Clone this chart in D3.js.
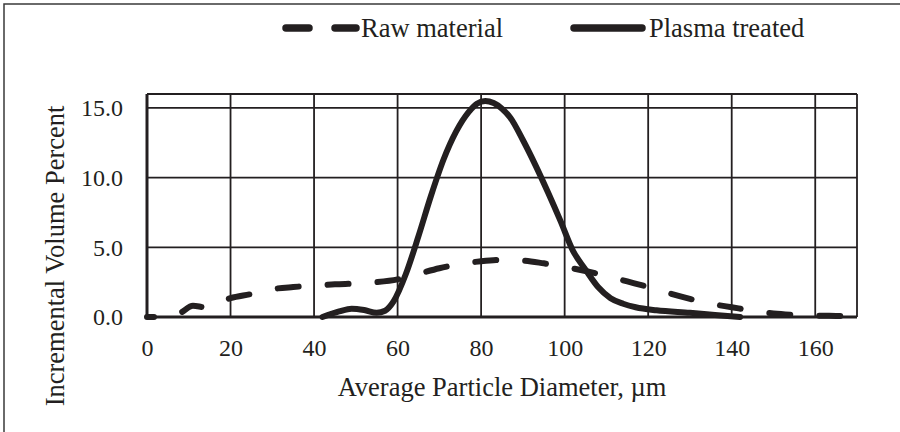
<!DOCTYPE html>
<html>
<head>
<meta charset="utf-8">
<script src="https://cdn.jsdelivr.net/npm/d3@7"></script>
<style>
  html, body { margin: 0; padding: 0; background: #fff; }
  svg text { font-family: "Liberation Serif", "Times New Roman", serif; fill: #231f20; }
</style>
</head>
<body>
<div id="chart"></div>
<script>
// values
const rawX = [0, 4, 8, 11, 14, 20, 25, 30, 35, 40, 45, 50, 55, 60, 65, 70, 75, 80, 85, 90, 95, 100, 105, 110, 115, 120, 125, 130, 135, 140, 145, 150, 155, 160, 165, 170];
const rawY = [0, 0.02, 0.3, 0.8, 0.7, 1.35, 1.65, 2.0, 2.15, 2.25, 2.35, 2.4, 2.5, 2.7, 3.1, 3.5, 3.8, 4.0, 4.1, 4.05, 3.85, 3.6, 3.3, 2.95, 2.55, 2.15, 1.7, 1.3, 0.95, 0.7, 0.45, 0.25, 0.15, 0.1, 0.08, 0.06];

const plasmaX = [42, 46, 49, 52, 55, 57, 59, 62, 65, 68, 71, 74, 77, 79, 81, 83, 85, 87, 90, 93, 96, 99, 102, 105, 108, 111, 114, 117, 122, 130, 136, 142];
const plasmaY = [0, 0.4, 0.6, 0.5, 0.3, 0.45, 1.1, 3.1, 5.8, 8.7, 11.3, 13.3, 14.7, 15.3, 15.5, 15.35, 14.95, 14.3, 12.7, 10.9, 8.95, 6.9, 4.75, 3.4, 2.15, 1.35, 0.95, 0.7, 0.48, 0.3, 0.15, 0];

const xTicks = [0, 20, 40, 60, 80, 100, 120, 140, 160];
const yTicks = [0, 5, 10, 15];
const seriesNames = ["Raw material", "Plasma treated"];
const xTitle = "Average Particle Diameter, \u00b5m";
const yTitle = "Incremental Volume Percent";

const W = 900, H = 432;
const margin = { top: 94, right: 43, bottom: 115, left: 147 };
const INK = "#231f20";

const svg = d3.select("#chart").append("svg")
    .attr("width", W)
    .attr("height", H);

// outer frame (right and bottom edges fall outside the picture)
svg.append("rect")
    .attr("x", 4).attr("y", 4)
    .attr("width", W).attr("height", H)
    .attr("fill", "none")
    .attr("stroke", "#3a3a3a")
    .attr("stroke-width", 1.5);

const width = W - margin.left - margin.right;
const height = H - margin.top - margin.bottom;

const x = d3.scaleLinear().domain([0, 170]).range([0, width]);
const y = d3.scaleLinear().domain([0, 16]).range([height, 0]);

const g = svg.append("g")
    .attr("transform", `translate(${margin.left}, ${margin.top})`);

// grid
g.selectAll("line.vgrid")
    .data(xTicks.concat([170]))
    .enter().append("line")
    .attr("class", "vgrid")
    .attr("x1", d => x(d)).attr("x2", d => x(d))
    .attr("y1", 0).attr("y2", height)
    .attr("stroke", INK)
    .attr("stroke-width", d => d === 0 ? 3 : 1.8);

g.selectAll("line.hgrid")
    .data(yTicks.concat([16]))
    .enter().append("line")
    .attr("class", "hgrid")
    .attr("x1", 0).attr("x2", width)
    .attr("y1", d => y(d)).attr("y2", d => y(d))
    .attr("stroke", INK)
    .attr("stroke-width", d => d === 0 ? 3 : 1.8);

// axes (labels only, lines come from the grid)
const xAxis = g.append("g")
    .attr("transform", `translate(0, ${height})`)
    .call(d3.axisBottom(x).tickValues(xTicks).tickSize(0).tickPadding(22).tickFormat(d3.format("d")));
xAxis.select("path.domain").remove();
xAxis.selectAll("text")
    .style("font-family", "'Liberation Serif', serif")
    .style("font-size", "24px")
    .attr("fill", INK);

const yAxis = g.append("g")
    .call(d3.axisLeft(y).tickValues(yTicks).tickSize(0).tickPadding(24).tickFormat(d3.format(".1f")));
yAxis.select("path.domain").remove();
yAxis.selectAll("text")
    .style("font-family", "'Liberation Serif', serif")
    .style("font-size", "24px")
    .attr("fill", INK);

// series
const line = d3.line()
    .x(d => x(d[0]))
    .y(d => y(d[1]))
    .curve(d3.curveMonotoneX);

g.append("path")
    .datum(d3.zip(rawX, rawY))
    .attr("d", line)
    .attr("fill", "none")
    .attr("stroke", INK)
    .attr("stroke-width", 6)
    .attr("stroke-linecap", "round")
    .attr("stroke-dasharray", "21,29")
    .attr("stroke-dashoffset", 14);

g.append("path")
    .datum(d3.zip(plasmaX, plasmaY))
    .attr("d", line)
    .attr("fill", "none")
    .attr("stroke", INK)
    .attr("stroke-width", 6)
    .attr("stroke-linecap", "round")
    .attr("stroke-linejoin", "round");

// titles
svg.append("text")
    .attr("x", margin.left + width / 2)
    .attr("y", 396)
    .attr("text-anchor", "middle")
    .style("font-size", "26.5px")
    .text(xTitle);

svg.append("text")
    .attr("transform", "translate(64, 256) rotate(-90)")
    .attr("text-anchor", "middle")
    .style("font-size", "26.5px")
    .text(yTitle);

// legend
const legend = svg.append("g").attr("class", "legend");
legend.append("line")
    .attr("x1", 286).attr("x2", 356)
    .attr("y1", 28).attr("y2", 28)
    .attr("stroke", INK)
    .attr("stroke-width", 7.5)
    .attr("stroke-linecap", "round")
    .attr("stroke-dasharray", "23,26");
legend.append("text")
    .attr("x", 361).attr("y", 37)
    .style("font-size", "26.5px")
    .text(seriesNames[0]);

legend.append("line")
    .attr("x1", 574).attr("x2", 642)
    .attr("y1", 28).attr("y2", 28)
    .attr("stroke", INK)
    .attr("stroke-width", 7.5)
    .attr("stroke-linecap", "round");
legend.append("text")
    .attr("x", 649).attr("y", 37)
    .style("font-size", "26.5px")
    .text(seriesNames[1]);
</script>
</body>
</html>
